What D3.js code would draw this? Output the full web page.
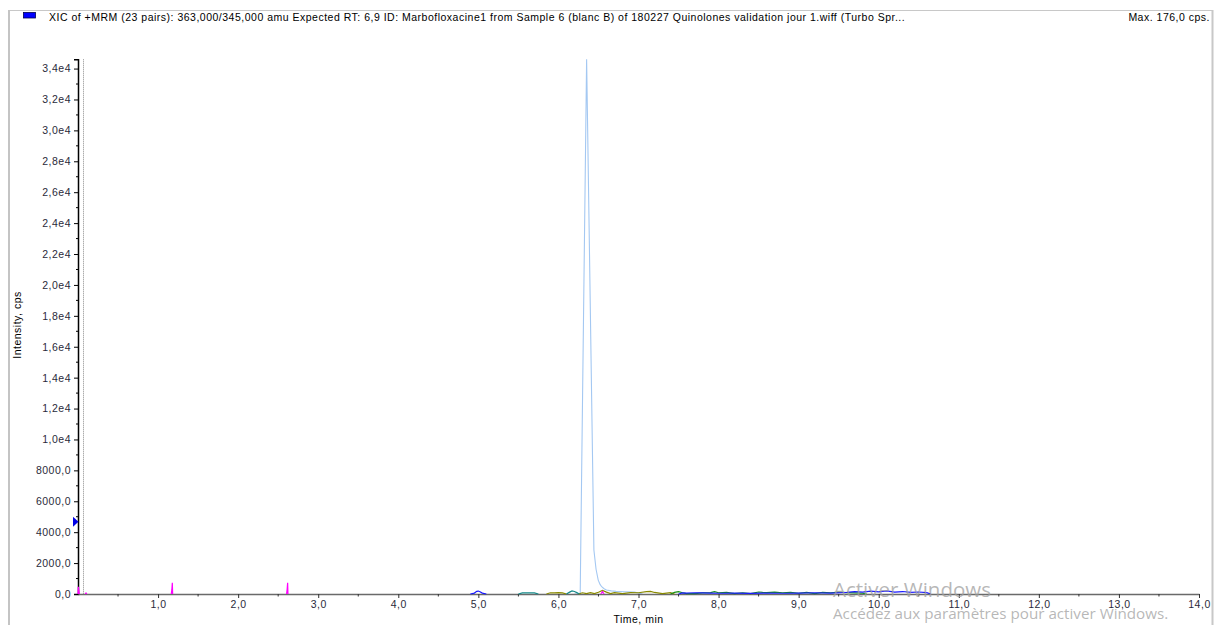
<!DOCTYPE html>
<html>
<head>
<meta charset="utf-8">
<script src="https://cdn.jsdelivr.net/npm/d3@7"></script>
<style>
  html, body { margin: 0; padding: 0; background: #fff; }
  svg { display: block; font-family: "Liberation Sans", Arial, sans-serif; }
</style>
</head>
<body>
<svg id="chart" width="1216" height="625"></svg>
<script>
// ---- chromatogram data (time in min, intensity in cps; null = no data) ----
const titleText = "XIC of +MRM (23 pairs): 363,000/345,000 amu Expected RT: 6,9 ID: Marbofloxacine1 from Sample 6 (blanc B) of 180227 Quinolones validation jour 1.wiff (Turbo Spr...";
const maxText = "Max. 176,0 cps.";

const xTicks = [1,2,3,4,5,6,7,8,9,10,11,12,13,14];
const xTickLabels = ["1,0","2,0","3,0","4,0","5,0","6,0","7,0","8,0","9,0","10,0","11,0","12,0","13,0","14,0"];
const yTicks = [0,2000,4000,6000,8000,10000,12000,14000,16000,18000,20000,22000,24000,26000,28000,30000,32000,34000];
const yTickLabels = ["0,0","2000,0","4000,0","6000,0","8000,0","1,0e4","1,2e4","1,4e4","1,6e4","1,8e4","2,0e4","2,2e4","2,4e4","2,6e4","2,8e4","3,0e4","3,2e4","3,4e4"];

const thresholdValue = 4670;

// main peak (light blue trace)
const peakTimes  = [6.20, 6.26, 6.272, 6.352, 6.443, 6.47, 6.497, 6.52, 6.54, 6.57, 6.60, 6.66, 6.72, 6.83, 6.95, 7.05];
const peakValues = [0,    20,   60,    34600, 2850,  1600, 900,   620,  470,  340,  260,  200,  170,  150,  120,  0];

// small baseline traces
const magentaTimes  = [0.000, 0.004, 0.010, 0.016, 0.05, 0.090, 0.100, 0.110, 0.5, 1.165, 1.172, 1.178, 1.182, 1.5, 2.605, 2.612, 2.618, 2.622, 3.0, 6.53, 6.55, 6.57];
const magentaValues = [0,     470,   250,   0,     null, 0,     70,    0,     null, 0,   280,   730,   0,     null, 0,    300,   730,   0,     null, 0,   160,  0];

const blueTimes  = [4.90, 4.95, 4.98, 5.00, 5.02, 5.05, 5.10, 6.0, 7.50, 7.55, 7.60, 7.70, 7.80, 7.90, 8.00, 8.20, 8.40, 8.60, 8.80, 9.00, 9.20, 9.40, 9.60, 9.70, 9.80, 9.90, 10.00, 10.10, 10.20, 10.30, 10.40, 10.50, 10.60, 10.65];
const blueValues = [0,    60,   170,  190,  150,  60,   0,    null, 0,  70,   60,   80,   70,   60,   50,   60,   40,   60,   50,   60,   80,   60,   100,  150,  120,  190,  140,   200,   120,   160,   100,   130,   90,    0];

const tealTimes  = [5.50, 5.55, 5.60, 5.65, 5.70, 5.75, 5.9, 6.10, 6.14, 6.17, 6.20, 6.23, 6.26];
const tealValues = [0,    70,   80,   75,   70,   0,    null, 0,  120,  200,  160,  90,   0];

const oliveTimes  = [5.85, 5.90, 5.95, 6.00, 6.05, 6.10, 6.2, 6.25, 6.30, 6.35, 6.40, 6.45, 6.50, 6.55, 6.60, 6.65, 6.70, 6.80, 6.90, 7.00, 7.10, 7.15, 7.20, 7.30, 7.40, 7.45];
const oliveValues = [0,    80,   70,   90,   75,   0,    null, 0,   80,   30,   90,   30,   110,  230,  120,  30,   90,   30,   90,   80,   150,  170,  100,  30,   90,   0];

const greenTimes  = [7.40, 7.45, 7.50, 7.55, 7.60, 7.70, 7.80, 7.90, 7.95, 8.00, 8.10, 8.20, 8.30, 8.40, 8.50, 8.55, 8.60, 8.70, 8.80, 8.90, 9.00, 9.10, 9.20, 9.30, 9.40, 9.50, 9.60, 9.70, 9.80, 9.85];
const greenValues = [0,    110,  150,  80,   30,   20,   70,   90,   150,  80,   100,  30,   80,   20,   130,  100,  90,   120,  80,   110,  50,   100,  30,   100,  80,   120,  90,   70,   50,   0];

const baselineTraces = [
  { times: oliveTimes,   values: oliveValues,   color: "#8a8a00" },
  { times: tealTimes,    values: tealValues,    color: "#168a8a" },
  { times: greenTimes,   values: greenValues,   color: "#159015" },
  { times: blueTimes,    values: blueValues,    color: "#1a1aff" },
  { times: magentaTimes, values: magentaValues, color: "#ff00ff" }
];

// ---- layout ----
const svg = d3.select("#chart");
const W = 1216, H = 625;
const x = d3.scaleLinear().domain([0, 14]).range([78, 1199]);
const y = d3.scaleLinear().domain([0, 34600]).range([594, 59.3]);
const labelFont = { size: 10.5, spacing: 0.5 };

svg.append("rect").attr("width", W).attr("height", H).attr("fill", "#fff");

// window frame
svg.append("line").attr("x1", 9).attr("x2", 1213).attr("y1", 10.5).attr("y2", 10.5)
  .attr("stroke", "#c8c8c8").attr("stroke-width", 1);
svg.append("line").attr("x1", 9).attr("x2", 9).attr("y1", 10).attr("y2", H)
  .attr("stroke", "#c4c4c4").attr("stroke-width", 2);
svg.append("line").attr("x1", 1212.5).attr("x2", 1212.5).attr("y1", 10).attr("y2", H)
  .attr("stroke", "#c8c8c8").attr("stroke-width", 2);

// legend swatch and header texts
svg.append("rect").attr("x", 23.5).attr("y", 12.5).attr("width", 12).attr("height", 5.5)
  .attr("fill", "#0000ff").attr("stroke", "#000050").attr("stroke-width", 0.8);
svg.append("text").attr("x", 49).attr("y", 21).attr("font-size", labelFont.size)
  .attr("letter-spacing", labelFont.spacing).attr("fill", "#000").text(titleText);
svg.append("text").attr("x", 1210).attr("y", 21).attr("font-size", labelFont.size)
  .attr("letter-spacing", labelFont.spacing).attr("fill", "#000")
  .attr("text-anchor", "end").text(maxText);

// dotted marker line near the y axis
svg.append("line").attr("x1", 83.5).attr("x2", 83.5).attr("y1", y.range()[1]).attr("y2", y(0))
  .attr("stroke", "#8a8a8a").attr("stroke-width", 1).attr("stroke-dasharray", "1,1");

// axes
const tickColor = "#2a2a3a";
const yAxis = d3.axisLeft(y)
  .tickValues(yTicks)
  .tickFormat((d, i) => yTickLabels[i])
  .tickSize(4).tickPadding(3);
const gy = svg.append("g").attr("transform", "translate(78,0)").call(yAxis);
gy.select(".domain").attr("stroke", "#000").attr("stroke-width", 1.5);
gy.selectAll(".tick line").attr("stroke", "#000");
gy.selectAll(".tick text").attr("font-size", labelFont.size).attr("letter-spacing", labelFont.spacing)
  .attr("fill", tickColor).attr("font-family", "Liberation Sans, Arial, sans-serif");
// minor y ticks
const yMinor = d3.range(1000, 34600, 2000);
svg.append("g").selectAll("line").data(yMinor).join("line")
  .attr("x1", 76).attr("x2", 78).attr("y1", d => y(d)).attr("y2", d => y(d))
  .attr("stroke", "#000").attr("stroke-width", 1);

// light blue main peak
const line = d3.line()
  .defined(d => d[1] !== null)
  .x(d => x(d[0])).y(d => y(d[1]));

const peakPts = peakTimes.map((t, i) => [t, peakValues[i]]);
svg.append("path").attr("d", line(peakPts)).attr("fill", "none")
  .attr("stroke", "#a4c8f2").attr("stroke-width", 1.1);

// x axis
const xAxis = d3.axisBottom(x)
  .tickValues(xTicks)
  .tickFormat((d, i) => xTickLabels[i])
  .tickSize(4).tickPadding(3).tickSizeOuter(0);
const gx = svg.append("g").attr("transform", "translate(0,594)").call(xAxis);
gx.select(".domain").attr("stroke", "#6a6a6a").attr("stroke-width", 1.5);
gx.selectAll(".tick line").attr("stroke", "#333");
gx.selectAll(".tick text").attr("font-size", labelFont.size).attr("letter-spacing", labelFont.spacing)
  .attr("fill", tickColor).attr("font-family", "Liberation Sans, Arial, sans-serif");
const xMinor = d3.range(0.5, 14, 1);
svg.append("g").selectAll("line").data(xMinor).join("line")
  .attr("x1", d => x(d)).attr("x2", d => x(d)).attr("y1", 594).attr("y2", 596.5)
  .attr("stroke", "#333").attr("stroke-width", 1);

// baseline traces over the axis
baselineTraces.forEach(s => {
  const pts = s.times.map((t, i) => [t, s.values[i]]);
  svg.append("path").attr("d", line(pts)).attr("fill", "none")
    .attr("stroke", s.color).attr("stroke-width", 1.2);
});

// threshold marker on the y axis
const ty = y(thresholdValue);
svg.append("path")
  .attr("d", `M73,${ty - 5}L78.5,${ty}L73,${ty + 5}Z`)
  .attr("fill", "#0000e6");

// axis titles
svg.append("text").attr("x", x(7)).attr("y", 623).attr("text-anchor", "middle")
  .attr("font-size", labelFont.size).attr("letter-spacing", labelFont.spacing)
  .attr("fill", "#000").text("Time, min");
svg.append("text").attr("transform", "translate(21,325) rotate(-90)").attr("text-anchor", "middle")
  .attr("font-size", labelFont.size).attr("letter-spacing", labelFont.spacing)
  .attr("fill", "#000").text("Intensity, cps");

// system watermark text
svg.append("text").attr("x", 833).attr("y", 597).attr("font-family", "Open Sans, Noto Sans, sans-serif")
  .attr("font-size", 20.5).attr("fill", "rgba(160,160,160,0.75)").text("Activer Windows");
svg.append("text").attr("x", 833).attr("y", 619).attr("font-family", "Open Sans, Noto Sans, sans-serif")
  .attr("font-size", 15.2).attr("fill", "rgba(160,160,160,0.75)").text("Accédez aux paramètres pour activer Windows.");
</script>
</body>
</html>
